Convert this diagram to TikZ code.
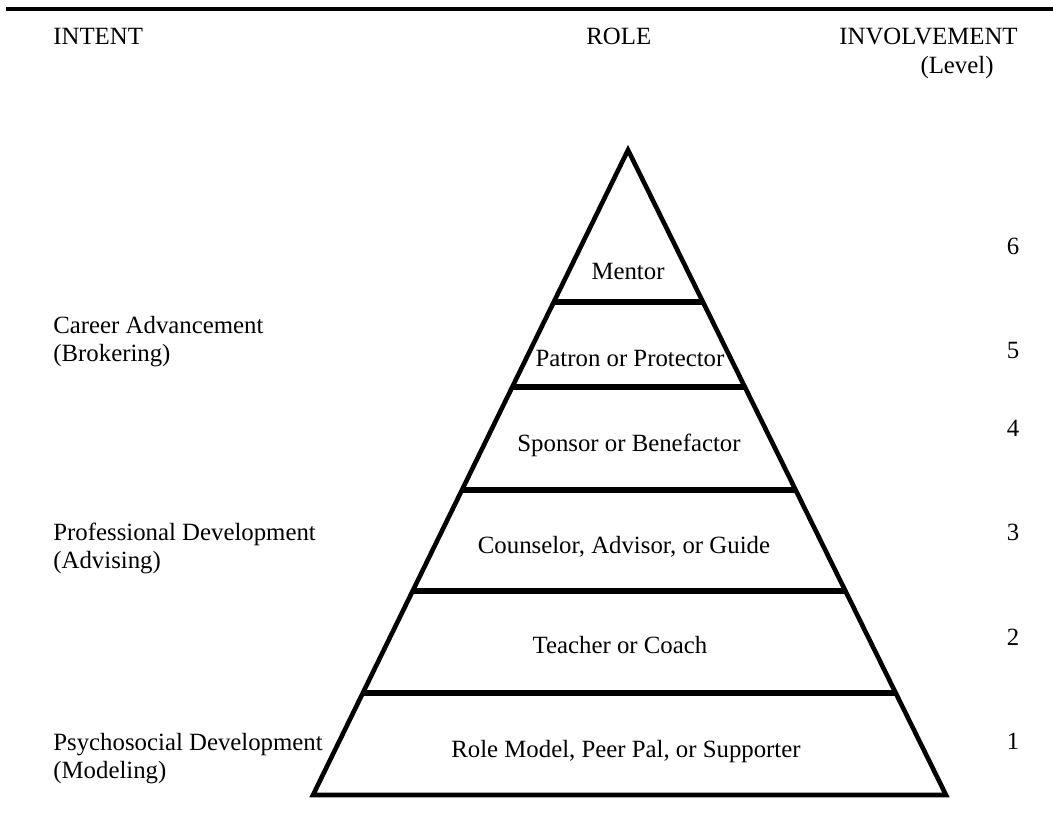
\documentclass[tikz,border=0pt]{standalone}
\usepackage{fontspec}
\setmainfont{Liberation Serif}
\usetikzlibrary{calc}

\begin{document}
\begin{tikzpicture}[x=0.5pt,y=-0.5pt,
	txt/.style={inner sep=0pt,font=\fontsize{12.4}{14}\selectfont},
	outline/.style={line width=2.3pt},
	band/.style={line width=2.6pt}]
	\useasboundingbox (0,0) rectangle (1053,813);
	% Rule and headings
	\coordinate (rl) at (6,9);
	\coordinate (rr) at (1053,9);
	\draw[line width=2.3pt] (rl) -- (rr);
	\node[txt,anchor=base west] (intent) at (53,45) {INTENT};
	\node[txt,anchor=base west] (role) at (586,45) {ROLE};
	\node[txt,anchor=base west] (inv) at (839,45) {INVOLVEMENT};
	\node[txt,anchor=base] (lev) at (957,74) {(Level)};
	% Pyramid
	\coordinate (top) at (628,150);
	\coordinate (bl) at (313,795);
	\coordinate (br) at (946,795);
	\draw[outline] (top) -- (bl) -- (br) -- cycle;
	\foreach \t in {0.2357,0.3674,0.5271,0.6837,0.8419}
		\draw[band] ($(top)!\t!(bl)$) -- ($(top)!\t!(br)$);
	% Roles
	\node[txt,anchor=base] (mentor) at (628,279) {Mentor};
	\node[txt,anchor=base] (patron) at (630,366) {Patron or Protector};
	\node[txt,anchor=base] (sponsor) at (629,451) {Sponsor or Benefactor};
	\node[txt,anchor=base] (counsel) at (624,553) {Counselor, Advisor, or Guide};
	\node[txt,anchor=base] (teacher) at (620,653) {Teacher or Coach};
	\node[txt,anchor=base] (model) at (626,757) {Role Model, Peer Pal, or Supporter};
	% Intent
	\node[txt,anchor=base west,align=left] (career) at (53,361) {Career Advancement\\(Brokering)};
	\node[txt,anchor=base west,align=left] (prof) at (53,568) {Professional Development\\(Advising)};
	\node[txt,anchor=base west,align=left] (psych) at (53,778) {Psychosocial Development\\(Modeling)};
	% Levels
	\node[txt,anchor=base] (l6) at (1013,254) {6};
	\node[txt,anchor=base] (l5) at (1013,358) {5};
	\node[txt,anchor=base] (l4) at (1013,436) {4};
	\node[txt,anchor=base] (l3) at (1013,540) {3};
	\node[txt,anchor=base] (l2) at (1013,645) {2};
	\node[txt,anchor=base] (l1) at (1013,749) {1};
\end{tikzpicture}
\end{document}
